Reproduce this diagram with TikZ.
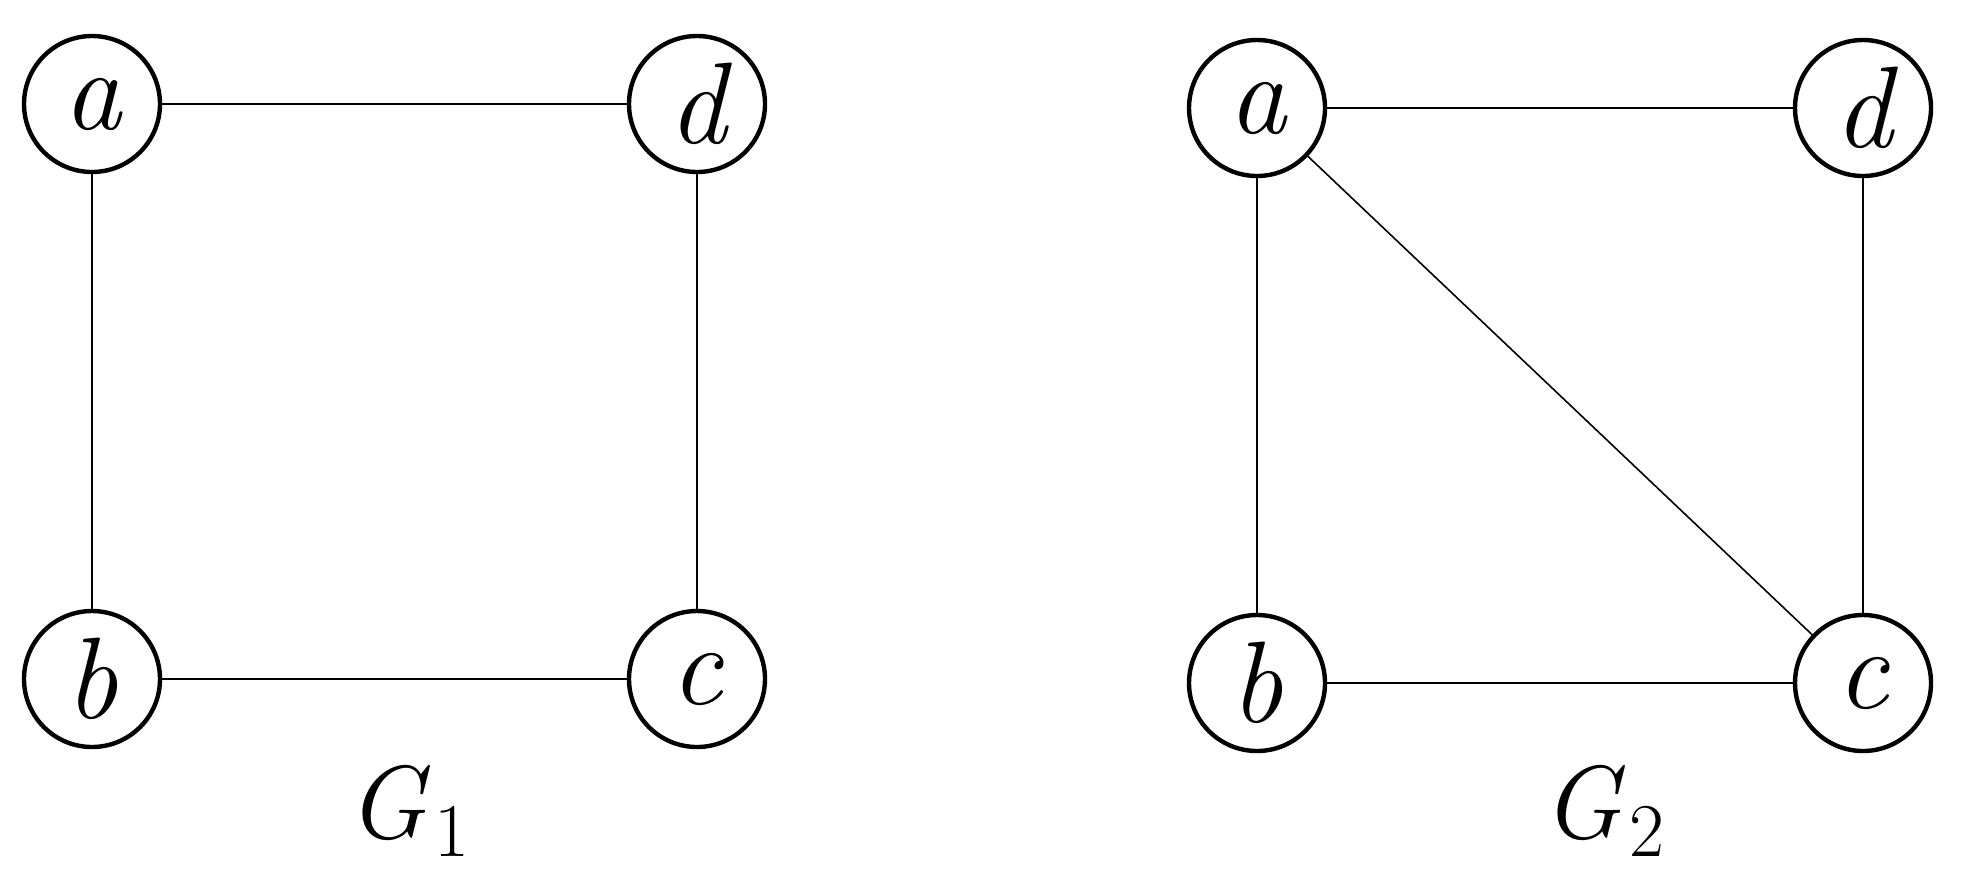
\documentclass[tikz,border=0pt]{standalone}
\usepackage{fontspec}
\newcommand{\grafo}[1]{\textit{G}\kern2pt\raisebox{-9pt}{\fontsize{38}{40}\selectfont #1}}
\tikzset{
    vertice/.style={draw, circle, line width=2.2pt, minimum size=68pt, inner sep=0pt,
        font=\fontsize{58}{60}\selectfont\itshape},
    lato/.style={line width=1.2pt},
    etichetta/.style={font=\fontsize{52}{56}\selectfont, anchor=base}
}
\begin{document}
\begin{tikzpicture}[x=0.5pt, y=-0.5pt]
    \useasboundingbox (0,0) rectangle (1964,890);

    % Grafo G1
    \node[vertice] (a1) at (92,104) {a};
    \node[vertice] (d1) at (697,104) {d};
    \node[vertice] (b1) at (92,679) {b};
    \node[vertice] (c1) at (697,679) {c};
    \draw[lato] (a1) -- (d1);
    \draw[lato] (a1) -- (b1);
    \draw[lato] (d1) -- (c1);
    \draw[lato] (b1) -- (c1);
    \node[etichetta] (g1) at (408,838) {\grafo{1}};

    % Grafo G2
    \node[vertice] (a2) at (1257,108) {a};
    \node[vertice] (d2) at (1863,108) {d};
    \node[vertice] (b2) at (1257,683) {b};
    \node[vertice] (c2) at (1863,683) {c};
    \draw[lato] (a2) -- (d2);
    \draw[lato] (a2) -- (b2);
    \draw[lato] (d2) -- (c2);
    \draw[lato] (b2) -- (c2);
    \draw[line width=0.8pt] (a2) -- (c2);
    \node[etichetta] (g2) at (1603,838) {\grafo{2}};
\end{tikzpicture}
\end{document}
